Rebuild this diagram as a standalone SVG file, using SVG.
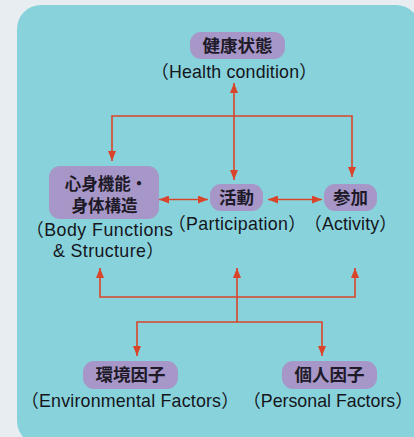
<svg xmlns="http://www.w3.org/2000/svg" width="414" height="437" viewBox="0 0 414 437">
  <defs>
    <style>
      .node { fill: #a797c9; }
      .jp { font-family: "Noto Sans CJK JP", "Noto Sans CJK SC", sans-serif; font-weight: bold; font-size: 17.5px; fill: #1e1a28; text-anchor: middle; }
      .jp2 { font-size: 16.5px; }
      .en { font-family: "Liberation Sans", Arial, "Noto Sans CJK JP", sans-serif; font-size: 17.8px; fill: #15151c; }
      .conn { fill: none; stroke: #d9452b; stroke-width: 1.6; }
    </style>
    <marker id="arr" viewBox="0 0 10 8" refX="10" refY="4" markerWidth="10" markerHeight="8" markerUnits="userSpaceOnUse" orient="auto-start-reverse">
      <path d="M0,0 L10,4 L0,8 Z" fill="#d9452b"/>
    </marker>
  </defs>
  <rect x="0" y="0" width="414" height="437" fill="#e8edf2"/>
  <rect x="17" y="5" width="403" height="440" rx="24" fill="#88d3db"/>

  <g id="connectors">
    <line class="conn" x1="234" y1="83" x2="234" y2="180" marker-start="url(#arr)" marker-end="url(#arr)"/>
    <path class="conn" d="M112,161 V116 H352 V177" marker-start="url(#arr)" marker-end="url(#arr)"/>
    <line class="conn" x1="159" y1="199.5" x2="208" y2="199.5" marker-start="url(#arr)" marker-end="url(#arr)"/>
    <line class="conn" x1="268" y1="199.5" x2="322" y2="199.5" marker-start="url(#arr)" marker-end="url(#arr)"/>
    <path class="conn" d="M100,268 V297 H355 V268" marker-start="url(#arr)" marker-end="url(#arr)"/>
    <line class="conn" x1="237" y1="268" x2="237" y2="322" marker-start="url(#arr)"/>
    <path class="conn" d="M137,356 V322 H322 V356" marker-start="url(#arr)" marker-end="url(#arr)"/>
  </g>

  <g id="health">
    <rect class="node" x="190" y="32" width="95" height="27" rx="11"/>
    <text class="jp" x="237.5" y="51.5">健康状態</text>
    <text class="en" x="151" y="78" textLength="166">（Health condition）</text>
  </g>

  <g id="body">
    <rect class="node" x="49" y="166" width="110" height="53" rx="11"/>
    <text class="jp jp2" x="106" y="189.5">心身機能・</text>
    <text class="jp jp2" x="104.5" y="211.5">身体構造</text>
    <text class="en" x="26" y="236" textLength="147">（Body Functions</text>
    <text class="en" x="53" y="257" textLength="111">&amp; Structure）</text>
  </g>

  <g id="participation">
    <rect class="node" x="210" y="184" width="53" height="27" rx="11"/>
    <text class="jp" x="236.5" y="203.5">活動</text>
    <text class="en" x="168" y="230" textLength="138">（Participation）</text>
  </g>

  <g id="activity">
    <rect class="node" x="324" y="184" width="53" height="27" rx="11"/>
    <text class="jp" x="350.5" y="203.5">参加</text>
    <text class="en" x="304" y="230" textLength="93">（Activity）</text>
  </g>

  <g id="environmental">
    <rect class="node" x="83" y="361" width="95" height="28" rx="11"/>
    <text class="jp" x="130.5" y="381">環境因子</text>
    <text class="en" x="21" y="407" textLength="218">（Environmental Factors）</text>
  </g>

  <g id="personal">
    <rect class="node" x="282" y="361" width="95" height="28" rx="11"/>
    <text class="jp" x="329.5" y="381">個人因子</text>
    <text class="en" x="243" y="407" textLength="170">（Personal Factors）</text>
  </g>
</svg>
